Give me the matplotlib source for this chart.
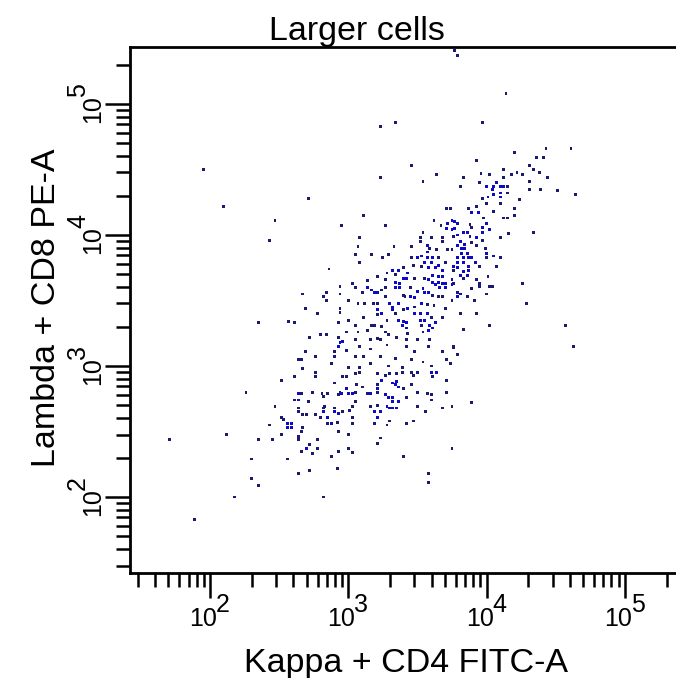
import numpy as np
import matplotlib
matplotlib.use("Agg")
import matplotlib.pyplot as plt
from matplotlib.ticker import LogLocator, NullFormatter

# ---------------- data (log10 of fluorescence intensity) ----------------
title = "Larger cells"
x_label = "Kappa + CD4 FITC-A"
y_label = "Lambda + CD8 PE-A"
decades = [2, 3, 4, 5]

kappa_log = [
    # sparse events
    1.95, 2.10, 2.71, 2.47, 2.43, 2.95, 3.79, 3.77, 4.14, 3.23, 3.34, 3.97, 4.43, 4.61, 4.51,
    4.64, 4.57, 4.63, 3.89, 3.75, 3.75, 3.58, 1.71, 1.89, 2.18, 2.12, 2.30, 2.35, 2.82,
    # upper core
    3.46, 3.23, 3.64, 3.54, 3.11, 3.71, 3.27, 3.62, 3.67, 3.71, 3.08, 3.54,
    3.52, 3.52, 3.60, 3.68, 3.68, 3.72, 3.07, 3.33, 3.46, 3.57, 3.59, 3.64,
    3.57, 3.05, 3.17, 3.25, 3.29, 3.46, 3.50, 3.53, 3.57, 3.61, 3.65, 3.72,
    # upper right
    4.20, 4.36, 4.41, 3.93, 4.31, 4.34, 4.38, 4.12, 4.22, 3.96, 4.02,
    4.18, 4.26, 3.83, 4.12, 4.44, 3.95, 4.07, 4.31, 3.81, 4.00, 4.05,
    4.10, 4.12, 4.15, 4.04, 4.31, 4.39, 4.10, 4.15, 4.05, 3.97, 4.01,
    4.10, 4.24, 4.00, 4.10, 3.93, 3.74, 3.87, 3.89, 3.94, 4.05, 4.20,
    4.20, 4.12, 4.15, 3.98, 3.75, 3.77, 3.79, 4.00, 3.88, 3.89, 3.97,
    3.77, 3.75, 4.02, 3.83, 3.86, 3.97, 3.76, 3.79, 3.88, 3.93, 4.10,
    4.16, 4.34, 3.97, 3.81, 3.79, 3.84, 3.89, 3.82, 3.84, 3.93, 3.99,
    3.75, 3.82, 3.86, 4.00, 3.89, 3.79, 3.83, 3.87, 4.00, 4.05, 4.10,
    # middle left
    2.86, 2.94, 2.67, 2.84, 2.94, 2.82, 2.84, 2.69, 2.78, 2.94,
    2.94, 2.57, 2.61, 2.35, 2.93, 2.80, 2.84, 2.72, 2.93, 2.96,
    2.94, 2.93, 2.69, 2.90, 2.76, 2.90, 2.64, 2.66, 2.88, 2.67,
    # main core
    3.08, 3.47, 3.55, 3.60, 3.65, 3.70, 3.53, 3.58, 3.63, 3.68,
    3.32, 3.36, 3.40, 3.43, 3.28, 3.34, 3.61, 3.65, 3.68, 3.21,
    3.27, 3.40, 3.42, 3.48, 3.55, 3.58, 3.61, 3.65, 3.68, 3.70,
    3.63, 3.66, 3.70, 3.03, 3.14, 3.34, 3.37, 3.05, 3.14, 3.17,
    3.19, 3.21, 3.24, 3.27, 3.34, 3.37, 3.45, 3.50, 3.54, 3.55,
    3.58, 3.61, 3.65, 3.68, 3.10, 3.40, 3.41, 3.45, 3.48, 3.27,
    3.00, 3.07, 3.12, 3.18, 3.21, 3.30, 3.32, 3.36, 3.53, 3.57,
    3.62, 3.70, 3.21, 3.32, 3.34, 3.40, 3.43, 3.48, 3.48, 3.52,
    3.57, 3.00, 3.11, 3.21, 3.24, 3.28, 3.36, 3.40, 3.42, 3.52,
    3.55, 3.60, 3.68, 3.05, 3.17, 3.19, 3.24, 3.39, 3.42, 3.53,
    3.59, 3.63, 3.07, 3.14, 3.27, 3.43, 3.54, 3.58, 3.61, 2.99,
    3.29, 3.35, 3.05, 3.16, 3.21, 3.23, 3.42, 3.50, 3.59, 3.08,
    3.28, 3.42, 3.58, 3.68, 2.99, 3.16, 3.48, 3.05, 3.11, 3.23,
    3.34, 3.46, 3.54, 3.71, 3.16, 3.29, 3.39, 3.60, 3.08, 3.00,
    # right of core
    3.79, 3.83, 3.92, 3.95, 3.76, 3.76, 3.79, 3.83, 3.87, 3.87,
    3.81, 3.83, 3.86, 4.07, 4.01, 3.75, 3.76, 3.75, 3.93, 3.95,
    3.95, 4.02, 4.04, 4.26, 3.89, 3.79, 3.79, 3.81, 4.00, 3.86,
    3.75, 3.91, 4.29, 3.81, 3.93, 4.02, 3.83, 3.76, 3.76, 3.79,
    3.74,
    # lower left
    2.76, 2.61, 2.76, 2.96, 2.52, 2.90, 2.26, 2.74, 2.94, 2.95,
    2.64, 2.66, 2.81, 2.82, 2.85, 2.93, 2.61, 2.64, 2.71, 2.83,
    2.47, 2.64, 2.64, 2.82, 2.82, 2.90, 2.90, 2.93, 2.96, 2.67,
    2.70, 2.76, 2.80, 2.85, 2.52, 2.53, 2.56, 2.59, 2.85, 2.88,
    2.92, 2.43, 2.56, 2.59, 2.67, 2.66, 2.93, 2.52, 2.64, 2.64,
    2.35, 2.45, 2.78, 2.72, 2.70, 2.78, 2.66, 2.93, 2.74, 2.88,
    2.30, 2.56, 2.92, 2.72, 2.64,
    # lower middle
    2.99, 3.05, 3.08, 3.21, 3.27, 3.30, 3.35, 3.39, 3.46, 3.47,
    3.50, 3.60, 3.61, 3.64, 3.24, 3.32, 3.34, 3.35, 3.36, 3.21,
    3.21, 3.21, 3.10, 2.99, 3.06, 3.46, 3.71, 3.40, 3.00, 3.03,
    3.14, 3.16, 3.05, 3.27, 3.29, 3.32, 3.32, 3.36, 3.42, 3.50,
    3.57, 3.60, 3.60, 3.71, 3.05, 3.03, 3.01, 3.16, 3.21, 3.28,
    3.30, 3.32, 3.35, 3.50, 3.56, 3.68, 3.19, 3.23, 3.03, 3.21,
    3.30, 3.47, 3.03, 3.19, 3.42, 3.28, 3.00, 3.23, 3.21, 3.00,
    3.03, 3.40, 3.58,
]

lambda_log = [
    # sparse events
    4.50, 4.22, 4.28, 4.11, 3.96, 4.07, 5.37, 5.41, 5.08, 4.83, 4.86, 4.86, 4.66, 4.66, 4.34,
    4.31, 3.31, 3.15, 2.72, 2.69, 2.37, 2.11, 2.44, 1.83, 2.00, 2.48, 2.14, 2.09, 2.00,
    # upper core
    4.53, 4.44, 4.46, 4.41, 4.15, 4.20, 4.07, 4.11, 4.07, 4.05, 3.98, 4.02,
    3.98, 3.95, 3.98, 3.98, 3.95, 4.09, 3.91, 3.91, 3.91, 3.92, 3.90, 3.89,
    3.87, 3.85, 3.85, 3.83, 3.85, 3.83, 3.83, 3.84, 3.83, 3.83, 3.83, 3.89,
    # upper right
    4.63, 4.59, 4.59, 4.57, 4.53, 4.50, 4.48, 4.50, 4.48, 4.47, 4.46,
    4.46, 4.46, 4.44, 4.44, 4.44, 4.40, 4.40, 4.41, 4.37, 4.37, 4.37,
    4.37, 4.37, 4.37, 4.35, 4.35, 4.35, 4.32, 4.32, 4.31, 4.28, 4.29,
    4.29, 4.27, 4.24, 4.24, 4.22, 4.20, 4.20, 4.17, 4.17, 4.18, 4.20,
    4.15, 4.13, 4.13, 4.13, 4.11, 4.10, 4.09, 4.09, 4.08, 4.06, 4.06,
    4.05, 4.04, 4.04, 4.02, 4.02, 4.02, 3.99, 4.00, 3.99, 3.98, 3.98,
    4.01, 4.02, 3.96, 3.95, 3.92, 3.93, 3.94, 3.90, 3.90, 3.92, 3.90,
    3.89, 3.86, 3.86, 3.86, 3.83, 3.83, 3.83, 3.83, 3.83, 3.84, 3.83,
    # middle left
    3.74, 3.61, 3.55, 3.56, 3.55, 3.53, 3.50, 3.44, 3.40, 3.44,
    3.41, 3.34, 3.33, 3.33, 3.33, 3.24, 3.24, 3.22, 3.22, 3.19,
    3.18, 3.15, 3.11, 3.11, 3.07, 3.07, 3.05, 3.05, 3.02, 2.98,
    # main core
    3.79, 3.77, 3.79, 3.79, 3.77, 3.79, 3.76, 3.75, 3.75, 3.73,
    3.73, 3.73, 3.75, 3.71, 3.71, 3.70, 3.69, 3.68, 3.68, 3.68,
    3.66, 3.67, 3.67, 3.67, 3.67, 3.66, 3.64, 3.64, 3.63, 3.63,
    3.62, 3.60, 3.60, 3.63, 3.65, 3.64, 3.63, 3.60, 3.60, 3.58,
    3.56, 3.56, 3.58, 3.60, 3.60, 3.60, 3.60, 3.57, 3.59, 3.56,
    3.56, 3.54, 3.53, 3.53, 3.56, 3.54, 3.53, 3.53, 3.52, 3.53,
    3.50, 3.48, 3.48, 3.48, 3.48, 3.48, 3.45, 3.48, 3.48, 3.47,
    3.46, 3.44, 3.43, 3.43, 3.40, 3.43, 3.44, 3.45, 3.40, 3.40,
    3.40, 3.35, 3.37, 3.39, 3.40, 3.35, 3.35, 3.34, 3.33, 3.35,
    3.35, 3.37, 3.37, 3.31, 3.31, 3.31, 3.30, 3.31, 3.29, 3.31,
    3.31, 3.33, 3.26, 3.27, 3.26, 3.25, 3.26, 3.27, 3.29, 3.26,
    3.24, 3.22, 3.20, 3.20, 3.21, 3.20, 3.20, 3.20, 3.20, 3.15,
    3.16, 3.15, 3.15, 3.11, 3.12, 3.13, 3.11, 3.07, 3.07, 3.07,
    3.06, 3.05, 3.03, 3.05, 3.02, 3.00, 2.99, 3.00, 2.99, 2.99,
    # right of core
    3.79, 3.79, 3.79, 3.76, 3.76, 3.73, 3.75, 3.72, 3.76, 3.73,
    3.69, 3.67, 3.69, 3.76, 3.68, 3.66, 3.63, 3.62, 3.66, 3.63,
    3.61, 3.61, 3.61, 3.63, 3.59, 3.56, 3.53, 3.55, 3.55, 3.53,
    3.50, 3.50, 3.48, 3.40, 3.40, 3.31, 3.28, 3.15, 3.14, 3.09,
    3.02,
    # lower left
    2.95, 2.92, 2.92, 2.92, 2.89, 2.87, 2.80, 2.80, 2.80, 2.79,
    2.79, 2.79, 2.79, 2.77, 2.79, 2.78, 2.74, 2.74, 2.73, 2.69,
    2.69, 2.68, 2.65, 2.68, 2.65, 2.68, 2.65, 2.64, 2.65, 2.63,
    2.63, 2.63, 2.61, 2.61, 2.61, 2.59, 2.56, 2.56, 2.56, 2.56,
    2.57, 2.55, 2.53, 2.53, 2.53, 2.50, 2.50, 2.48, 2.46, 2.44,
    2.44, 2.44, 2.44, 2.40, 2.37, 2.37, 2.35, 2.35, 2.33, 2.31,
    2.29, 2.29, 2.22, 2.20, 2.18,
    # lower middle
    2.92, 2.94, 2.95, 2.94, 2.93, 2.94, 2.94, 2.95, 2.95, 2.93,
    2.95, 2.95, 2.92, 2.95, 2.89, 2.87, 2.86, 2.88, 2.84, 2.86,
    2.83, 2.80, 2.84, 2.83, 2.86, 2.86, 2.89, 2.83, 2.79, 2.79,
    2.79, 2.79, 2.80, 2.78, 2.76, 2.76, 2.73, 2.73, 2.76, 2.80,
    2.79, 2.78, 2.74, 2.80, 2.73, 2.69, 2.66, 2.69, 2.70, 2.69,
    2.68, 2.68, 2.68, 2.69, 2.65, 2.68, 2.65, 2.65, 2.61, 2.61,
    2.58, 2.58, 2.56, 2.56, 2.56, 2.55, 2.48, 2.45, 2.41, 2.37,
    2.34, 2.31, 2.18,
]

assert len(kappa_log) == len(lambda_log)

x_range_log = (1.4216, 5.3695)
y_range_log = (1.420, 5.435)

# ---------------- figure ----------------
W, H = 676, 678
fig = plt.figure(figsize=(W / 100, H / 100), dpi=100)
fig.patch.set_facecolor("white")
ax = fig.add_axes([130 / W, 1 - 573 / H, 546 / W, 526 / H])

kx = np.array(kappa_log)
ly = np.array(lambda_log)
kappa = 10 ** kx
lam = 10 ** ly

# local density -> brighter blue in crowded spots
dens = np.array([np.sum((np.abs(kx - a) < 0.05) & (np.abs(ly - b) < 0.05)) for a, b in zip(kx, ly)])
colors = np.where(dens >= 4, "#0c0cc8", "#1a1a70")

ax.scatter(kappa, lam, s=4.2, marker="s", c=colors, linewidths=0)

ax.set_xscale("log")
ax.set_yscale("log")
ax.set_xlim(10 ** x_range_log[0], 10 ** x_range_log[1])
ax.set_ylim(10 ** y_range_log[0], 10 ** y_range_log[1])

for axis in (ax.xaxis, ax.yaxis):
    axis.set_major_locator(LogLocator(base=10, numticks=12))
    axis.set_minor_locator(LogLocator(base=10, subs=np.arange(2, 10), numticks=12))
    axis.set_minor_formatter(NullFormatter())

ax.tick_params(which="major", direction="out", length=18, width=1.8, color="black",
               labelbottom=False, labelleft=False, top=False, right=False)
ax.tick_params(which="minor", direction="out", length=10, width=1.8, color="black",
               top=False, right=False)

for side in ("left", "top", "bottom"):
    ax.spines[side].set_linewidth(2.0)
    ax.spines[side].set_color("black")
ax.spines["right"].set_visible(False)

tick_font = ["Liberation Sans Narrow", "Liberation Sans", "DejaVu Sans"]
label_font = ["Liberation Sans", "DejaVu Sans"]
tfs = 18

for k in decades:
    # x axis labels
    ax.annotate("10", xy=(10 ** k, 0), xycoords=("data", "axes fraction"),
                xytext=(-7, -46), textcoords="offset pixels", ha="center", va="center",
                fontsize=tfs, family=tick_font)
    ax.annotate(str(k), xy=(10 ** k, 0), xycoords=("data", "axes fraction"),
                xytext=(13, -32), textcoords="offset pixels", ha="center", va="center",
                fontsize=tfs, family=tick_font)
    # y axis labels (rotated)
    ax.annotate("10", xy=(0, 10 ** k), xycoords=("axes fraction", "data"),
                xytext=(-37, -5), textcoords="offset pixels", ha="center", va="center",
                rotation=90, fontsize=tfs, family=tick_font)
    ax.annotate(str(k), xy=(0, 10 ** k), xycoords=("axes fraction", "data"),
                xytext=(-52, 14), textcoords="offset pixels", ha="center", va="center",
                rotation=90, fontsize=tfs, family=tick_font)

fig.text(357 / W, 1 - 40 / H, title, ha="center", va="baseline", fontsize=24.5, family=label_font)
fig.text(406 / W, 1 - 672 / H, x_label, ha="center", va="baseline", fontsize=24.5, family=label_font)
fig.text(47 / W, 1 - 308 / H, y_label, ha="center", va="center", rotation=90, fontsize=24.5,
         family=label_font)

fig.savefig("out.png", dpi=100, facecolor="white")
